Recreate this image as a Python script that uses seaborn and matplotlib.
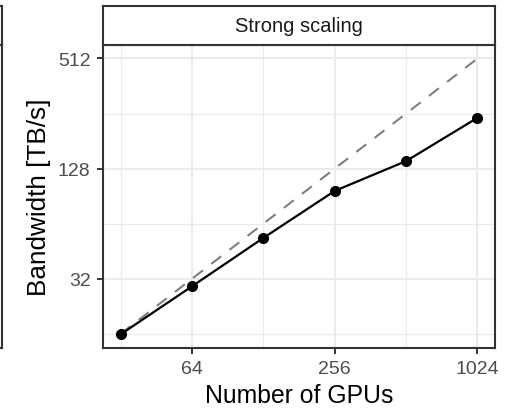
import matplotlib
matplotlib.use("Agg")
import matplotlib.pyplot as plt
from matplotlib.ticker import FixedLocator, NullFormatter
import seaborn as sns

# GPU counts and measured aggregate bandwidth (TB/s)
gpus = [32, 64, 128, 256, 512, 1024]
bandwidth = [15.9, 29.1, 53.5, 96.7, 140.8, 242.6]
# ideal linear scaling from the smallest run
ideal = [16, 32, 64, 128, 256, 512]

x_ticks = [64, 256, 1024]
x_minor = [32, 128, 512]
y_ticks = [32, 128, 512]
y_minor = [16, 64, 256]
panel_title = "Strong scaling"

sns.set_style("white")
plt.rcParams["font.family"] = ["Liberation Sans", "DejaVu Sans"]

W, H = 519, 410
fig = plt.figure(figsize=(W / 100, H / 100), dpi=100)

def box(x0, y0, x1, y1):
    return [x0 / W, 1 - y1 / H, (x1 - x0) / W, (y1 - y0) / H]

border = "#333333"
grid = "#ebebeb"

# main panel
ax = fig.add_axes(box(102.7, 45.7, 495.3, 349.2))
ax.set_facecolor("white")
ax.set_xscale("log", base=2)
ax.set_yscale("log", base=2)
ax.margins(0.05)

sns.lineplot(x=gpus, y=ideal, ax=ax, color="#7f7f7f", linewidth=1.5, zorder=3)
ax.lines[-1].set_dashes([6.0, 5.0])
sns.lineplot(x=gpus, y=bandwidth, ax=ax, color="black", linewidth=1.6,
             marker="o", markersize=8, markeredgewidth=0, zorder=4)

ax.xaxis.set_major_locator(FixedLocator(x_ticks))
ax.xaxis.set_minor_locator(FixedLocator(x_minor))
ax.yaxis.set_major_locator(FixedLocator(y_ticks))
ax.yaxis.set_minor_locator(FixedLocator(y_minor))
ax.set_xticklabels([str(v) for v in x_ticks])
ax.set_yticklabels([str(v) for v in y_ticks])
ax.xaxis.set_minor_formatter(NullFormatter())
ax.yaxis.set_minor_formatter(NullFormatter())

ax.grid(True, which="major", color=grid, linewidth=1.5, zorder=0)
ax.grid(True, which="minor", color=grid, linewidth=0.8, zorder=0)
ax.set_axisbelow(True)

ax.tick_params(axis="both", which="major", length=4.2, width=1.4, color=border,
               labelcolor="#4d4d4d", labelsize=14, pad=4.5,
               left=True, bottom=True)
ax.tick_params(axis="both", which="minor", length=0)
for s in ax.spines.values():
    s.set_color(border)
    s.set_linewidth(1.5)

ax.set_xlabel("Number of GPUs", fontsize=17.8, color="black", labelpad=4)
ax.set_ylabel("Bandwidth [TB/s]", fontsize=18.8, color="black", labelpad=5)

# facet strip
strip = fig.add_axes(box(102.7, 6.7, 495.3, 45.7))
strip.set_facecolor("white")
strip.set_xticks([])
strip.set_yticks([])
for s in strip.spines.values():
    s.set_color(border)
    s.set_linewidth(1.5)
strip.text(0.5, 0.5, panel_title, ha="center", va="center",
           fontsize=14.5, color="#1a1a1a", transform=strip.transAxes)

# neighbouring facet, mostly outside the canvas
left_panel = fig.add_axes(box(-300, 45.7, 2.5, 349.2))
left_strip = fig.add_axes(box(-300, 6.7, 2.5, 45.7))
for a in (left_panel, left_strip):
    a.set_facecolor("white")
    a.set_xticks([])
    a.set_yticks([])
    for s in a.spines.values():
        s.set_color(border)
        s.set_linewidth(1.5)

fig.savefig("out.png", dpi=100)
